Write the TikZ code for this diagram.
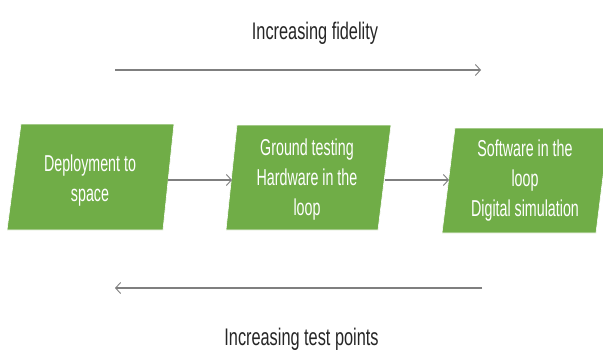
\documentclass[tikz,border=0pt]{standalone}
\usepackage{fontspec}
\setmainfont{Liberation Sans}
\newfontfamily\boxfont[FakeStretch=0.62]{Liberation Sans}
\newfontfamily\titlefont[FakeStretch=0.68]{Liberation Sans}
\usetikzlibrary{arrows.meta}
\definecolor{boxgreen}{HTML}{70AD47}
\definecolor{conngray}{HTML}{7F7F7F}
\definecolor{textgray}{HTML}{262626}
\tikzset{
  para/.style={fill=boxgreen, draw=white, line width=0.6pt},
  boxtext/.style={text=white, align=center, inner sep=0pt, font=\boxfont\fontsize{23}{30}\selectfont},
  titletext/.style={text=textgray, inner sep=0pt, anchor=base, font=\titlefont\fontsize{24}{28}\selectfont},
  conn/.style={draw=conngray, line width=1.1pt, -{Straight Barb[length=5pt,width=11pt,line width=0.9pt]}}
}
\begin{document}
\begin{tikzpicture}[x=1pt,y=-1pt]
\useasboundingbox (0,0) rectangle (603,353);
\clip (0,0) rectangle (603,353);
\fill[white] (0,0) rectangle (603,353);
% boxes
\path[para] (21,124) -- (174,124) -- (163,230) -- (7,230) -- cycle;
\path[para] (237,125) -- (391,125) -- (378,230) -- (226,230) -- cycle;
\path[para] (455,128) -- (609,128) -- (596,233) -- (442,233) -- cycle;
\node[boxtext] (b1) at (90,181) {Deployment to\\space};
\node[boxtext] (b2) at (307,180) {Ground testing\\Hardware in the\\loop};
\node[boxtext] (b3) at (525,181) {Software in the\\loop\\Digital simulation};
% connector ends on the box edges
\coordinate (b1r) at (168,180);
\coordinate (b2l) at (232,180);
\coordinate (b2r) at (385,180);
\coordinate (b3l) at (449,180);
\draw[conn] (b1r) -- (b2l);
\draw[conn] (b2r) -- (b3l);
% titles and long arrows
\node[titletext] (tf) at (315,40) {Increasing fidelity};
\node[titletext] (tp) at (301.5,345) {Increasing test points};
\coordinate (fa) at (115,70);
\coordinate (fb) at (481,70);
\coordinate (pa) at (482,288);
\coordinate (pb) at (115,288);
\draw[conn] (fa) -- (fb);
\draw[conn] (pa) -- (pb);
\end{tikzpicture}
\end{document}
